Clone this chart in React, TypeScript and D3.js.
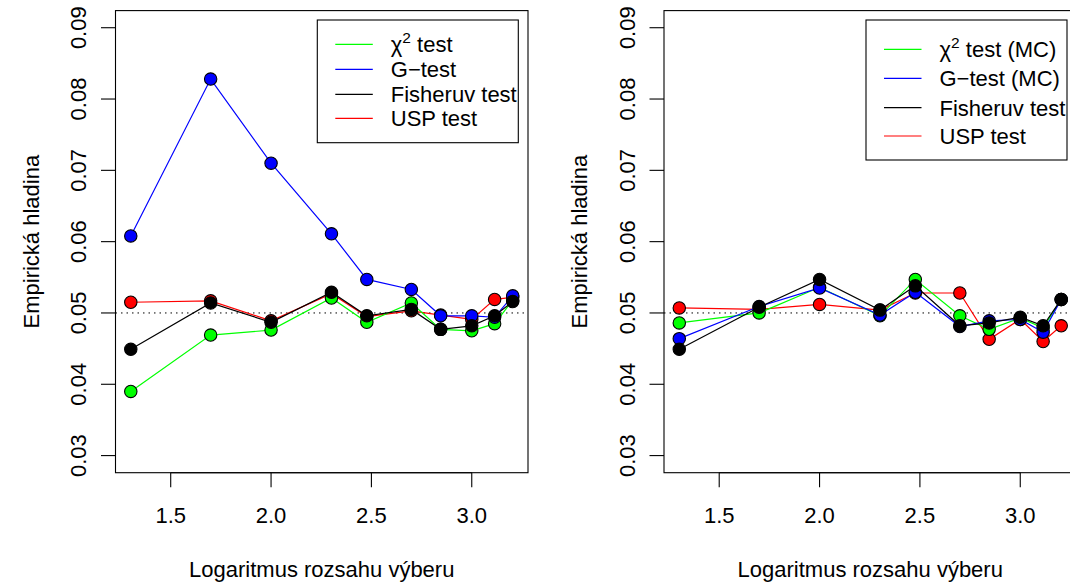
import React from "react";
import * as d3 from "d3";

const sampleSizes = [20, 50, 100, 200, 300, 500, 700, 1000, 1300, 1600];

// Left panel (asymptotic tests)
const chi2Left = [0.039, 0.0469, 0.0476, 0.0521, 0.0487, 0.0514, 0.0477, 0.0475, 0.0485, 0.0518];
const gLeft = [0.0608, 0.0828, 0.071, 0.0611, 0.0547, 0.0533, 0.0496, 0.0496, 0.0494, 0.0524];
const fisherLeft = [0.0449, 0.0514, 0.0487, 0.0529, 0.0496, 0.0505, 0.0477, 0.0482, 0.0496, 0.0516];
const uspLeft = [0.0515, 0.0517, 0.0489, 0.0527, 0.0495, 0.0503, 0.0497, 0.0491, 0.0519, 0.0522];

// Right panel (Monte Carlo variants)
const chi2Right = [0.0486, 0.05, 0.0536, 0.0496, 0.0547, 0.0496, 0.0477, 0.0493, 0.0479, 0.0519];
const gRight = [0.0464, 0.0509, 0.0535, 0.0497, 0.0529, 0.0481, 0.0489, 0.0491, 0.0473, 0.0519];
const fisherRight = [0.0449, 0.0508, 0.0547, 0.0504, 0.0538, 0.0482, 0.0486, 0.0494, 0.0482, 0.0519];
const uspRight = [0.0507, 0.0505, 0.0512, 0.0504, 0.0528, 0.0528, 0.0463, 0.0491, 0.046, 0.0482];

const xTicks = [1.5, 2.0, 2.5, 3.0];
const yTicks = [0.03, 0.04, 0.05, 0.06, 0.07, 0.08, 0.09];
const yLimits = [0.03, 0.09];
const refLevel = 0.05;

const xLabel = "Logaritmus rozsahu výberu";
const yLabel = "Empirická hladina";

const leftLegend = ["test", "G\u2212test", "Fisheruv test", "USP test"];
const rightLegend = ["test (MC)", "G\u2212test (MC)", "Fisheruv test", "USP test"];

const COLORS = { chi2: "#00ff00", g: "#0000ff", fisher: "#000000", usp: "#ff0000" };
const FONT = "'Liberation Sans', Arial, Helvetica, sans-serif";

type Series = { key: string; color: string; values: number[] };

function Panel({
  offsetX,
  series,
  legendLabels,
  legend,
}: {
  offsetX: number;
  series: Series[];
  legendLabels: string[];
  legend: { left: number; top: number; width: number; bottom: number; rows: number[] };
}) {
  const xs = sampleSizes.map((n) => Math.log10(n));
  const [x0, x1] = d3.extent(xs) as [number, number];
  const xPad = (x1 - x0) * 0.04;
  const yPad = (yLimits[1] - yLimits[0]) * 0.04;
  const left = 115.5 + offsetX;
  const right = 528 + offsetX;
  const top = 10.6;
  const bottom = 472.7;
  const x = d3.scaleLinear().domain([x0 - xPad, x1 + xPad]).range([left, right]);
  const y = d3.scaleLinear().domain([yLimits[0] - yPad, yLimits[1] + yPad]).range([bottom, top]);
  const line = d3
    .line<number>()
    .x((_, i) => x(xs[i]))
    .y((d) => y(d));
  const tick = 14.5;
  const fs = 22;
  const lx1 = legend.left + 18;
  const lx2 = legend.left + 55.5;
  const tx = legend.left + 73.5;
  return (
    <g>
      <rect x={left} y={top} width={right - left} height={bottom - top} fill="none" stroke="#000" strokeWidth={1.1} />
      {/* x axis */}
      <line x1={x(xTicks[0])} x2={x(xTicks[xTicks.length - 1])} y1={bottom} y2={bottom} stroke="#000" strokeWidth={1.1} />
      {xTicks.map((t) => (
        <g key={t}>
          <line x1={x(t)} x2={x(t)} y1={bottom} y2={bottom + tick} stroke="#000" strokeWidth={1.1} />
          <text x={x(t)} y={523} textAnchor="middle" fontSize={fs} fontFamily={FONT}>
            {t.toFixed(1)}
          </text>
        </g>
      ))}
      {/* y axis */}
      {yTicks.map((t) => (
        <g key={t}>
          <line x1={left} x2={left - tick} y1={y(t)} y2={y(t)} stroke="#000" strokeWidth={1.1} />
          <text
            transform={`translate(${left - 29.5},${y(t)}) rotate(-90)`}
            textAnchor="middle"
            fontSize={fs}
            fontFamily={FONT}
          >
            {t.toFixed(2)}
          </text>
        </g>
      ))}
      <text x={(left + right) / 2} y={576.5} textAnchor="middle" fontSize={fs} fontFamily={FONT}>
        {xLabel}
      </text>
      <text
        transform={`translate(${left - 77},${(top + bottom) / 2}) rotate(-90)`}
        textAnchor="middle"
        fontSize={fs}
        fontFamily={FONT}
      >
        {yLabel}
      </text>
      {/* reference line */}
      <line x1={left} x2={right} y1={y(refLevel)} y2={y(refLevel)} stroke="#000" strokeWidth={1} strokeDasharray="1.5,4" />
      {/* series */}
      {series.map((s) => (
        <g key={s.key}>
          <path d={line(s.values) || ""} fill="none" stroke={s.color} strokeWidth={1.2} />
          {s.values.map((v, i) => (
            <circle key={i} cx={x(xs[i])} cy={y(v)} r={6.2} fill={s.color} stroke="#000" strokeWidth={1.1} />
          ))}
        </g>
      ))}
      {/* legend */}
      <rect
        x={legend.left}
        y={legend.top}
        width={legend.width}
        height={legend.bottom - legend.top}
        fill="#fff"
        stroke="#000"
        strokeWidth={1.1}
      />
      {[COLORS.chi2, COLORS.g, COLORS.fisher, COLORS.usp].map((c, i) => (
        <g key={i}>
          <line x1={lx1} x2={lx2} y1={legend.rows[i]} y2={legend.rows[i]} stroke={c} strokeWidth={1.2} />
          <text x={tx} y={legend.rows[i] + 8} fontSize={fs} fontFamily={FONT}>
            {i === 0 ? (
              <>
                <tspan>χ</tspan>
                <tspan fontSize={15.5} dy={-9}>
                  2
                </tspan>
                <tspan dy={9}> {legendLabels[i]}</tspan>
              </>
            ) : (
              legendLabels[i]
            )}
          </text>
        </g>
      ))}
    </g>
  );
}

export default function App() {
  const leftSeries: Series[] = [
    { key: "usp", color: COLORS.usp, values: uspLeft },
    { key: "chi2", color: COLORS.chi2, values: chi2Left },
    { key: "g", color: COLORS.g, values: gLeft },
    { key: "fisher", color: COLORS.fisher, values: fisherLeft },
  ];
  const rightSeries: Series[] = [
    { key: "usp", color: COLORS.usp, values: uspRight },
    { key: "chi2", color: COLORS.chi2, values: chi2Right },
    { key: "g", color: COLORS.g, values: gRight },
    { key: "fisher", color: COLORS.fisher, values: fisherRight },
  ];
  return (
    <svg
      width={1070}
      height={585}
      style={{ position: "absolute", left: 0, top: 0, background: "#fff" }}
    >
      <rect x={0} y={0} width={1070} height={585} fill="#fff" />
      <Panel
        offsetX={0}
        series={leftSeries}
        legendLabels={leftLegend}
        legend={{ left: 317.3, top: 20, width: 201, bottom: 142.7, rows: [44.3, 69.3, 94.3, 118.3] }}
      />
      <Panel
        offsetX={548.5}
        series={rightSeries}
        legendLabels={rightLegend}
        legend={{ left: 866, top: 20, width: 201, bottom: 160, rows: [49.3, 78.3, 107.7, 136] }}
      />
    </svg>
  );
}
